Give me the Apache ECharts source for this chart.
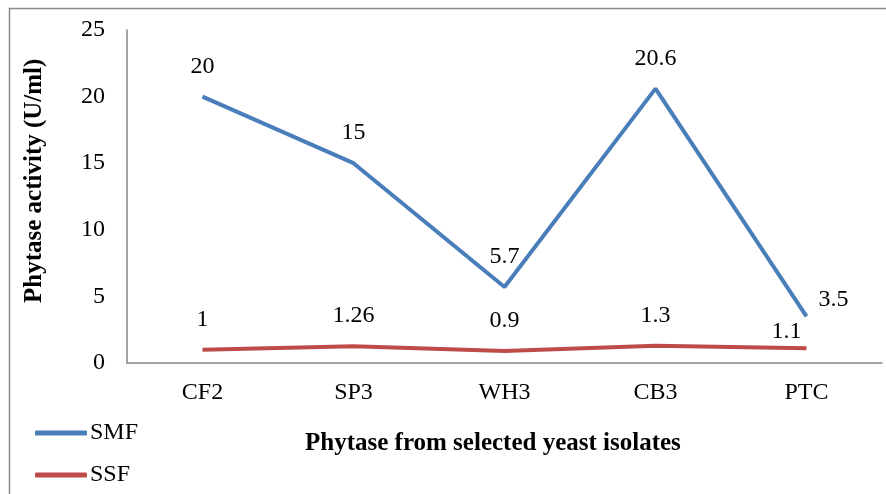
<!DOCTYPE html>
<html>
<head>
<meta charset="utf-8">
<script src="https://cdn.jsdelivr.net/npm/echarts@6/dist/echarts.min.js"></script>
<style>html,body{margin:0;padding:0;background:#fff}#c{width:886px;height:494px}</style>
</head>
<body>
<div id="c"></div>
<script>
var categories = ['CF2', 'SP3', 'WH3', 'CB3', 'PTC'];
var smf = [20, 15, 5.7, 20.6, 3.5];
var ssf = [1, 1.26, 0.9, 1.3, 1.1];
var yTicks = [0, 5, 10, 15, 20, 25];

var FONT = '"Liberation Serif", "Times New Roman", serif';
var FS = 24;
var chart = echarts.init(document.getElementById('c'));

function labelled(vals, lastOffset) {
  return vals.map(function (v, i) {
    if (i === vals.length - 1) {
      return { value: v, label: { distance: 5, offset: lastOffset } };
    }
    return v;
  });
}

chart.setOption({
  animation: false,
  textStyle: { fontFamily: FONT },
  grid: { left: 127, top: 30, right: 4, bottom: 131, containLabel: false },
  graphic: [
    { type: 'rect', shape: { x: 9.5, y: 8.5, width: 900, height: 520 },
      style: { fill: 'none', stroke: '#8a8a8a', lineWidth: 1.5 }, silent: true },
    { type: 'text', left: 305, top: 431,
      style: { text: 'Phytase from selected yeast isolates', font: 'bold 25px ' + FONT, fill: '#000' } },
    { type: 'text', x: 22, y: 303, rotation: Math.PI / 2,
      style: { text: 'Phytase activity (U/ml)', font: 'bold 25px ' + FONT, fill: '#000' } }
  ],
  legend: {
    orient: 'vertical', left: 35, top: 421, padding: 0,
    itemWidth: 52, itemHeight: 5, itemGap: 18,
    icon: 'roundRect',
    textStyle: { fontFamily: FONT, fontSize: FS, color: '#000', padding: [0, 0, 0, -2] },
    data: ['SMF', 'SSF']
  },
  xAxis: {
    type: 'category', data: categories, boundaryGap: true,
    axisLine: { lineStyle: { color: '#868686', width: 1.5 } },
    axisTick: { show: false },
    axisLabel: { fontFamily: FONT, fontSize: FS, color: '#000', margin: 18 }
  },
  yAxis: {
    type: 'value', min: 0, max: 25, interval: 5,
    axisLine: { show: true, lineStyle: { color: '#868686', width: 1.5 } },
    axisTick: { show: false },
    splitLine: { show: false },
    axisLabel: { fontFamily: FONT, fontSize: FS, color: '#000', margin: 22,
      formatter: function (v) { return yTicks.indexOf(v) >= 0 ? String(v) : ''; } }
  },
  series: [
    { name: 'SMF', type: 'line', data: labelled(smf, [27, 0]), showSymbol: true, symbol: 'circle', symbolSize: 0.1,
      lineStyle: { color: '#4A7EBB', width: 4 }, itemStyle: { color: '#4A7EBB' },
      label: { show: true, position: 'top', distance: 18, fontFamily: FONT, fontSize: FS, color: '#000' } },
    { name: 'SSF', type: 'line', data: labelled(ssf, [-20, 0]), showSymbol: true, symbol: 'circle', symbolSize: 0.1,
      lineStyle: { color: '#BE4B48', width: 4 }, itemStyle: { color: '#BE4B48' },
      label: { show: true, position: 'top', distance: 18, fontFamily: FONT, fontSize: FS, color: '#000' } }
  ]
});
</script>
</body>
</html>
